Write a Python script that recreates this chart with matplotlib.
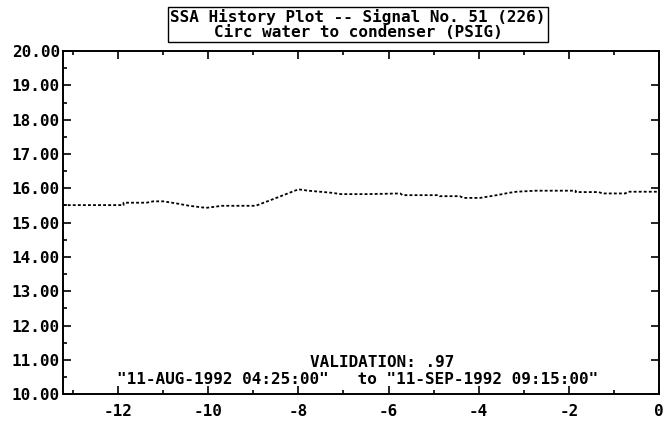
import matplotlib
matplotlib.use("Agg")
import matplotlib.pyplot as plt
import matplotlib.ticker as ticker

plt.rcParams.update({
    "font.family": "DejaVu Sans Mono", "font.weight": "bold", "font.size": 11.5,
    "xtick.direction": "in", "ytick.direction": "in",
})

# signal trace (time offset, PSIG)
t_vals = [-13.23, -11.88, -11.88, -11.37, -11.22, -11.00, -10.71, -10.42, -10.05,
          -9.69, -8.95, -8.51, -8.00, -7.78, -7.27, -7.05, -6.46, -5.74, -5.69,
          -4.89, -4.86, -4.42, -4.34, -3.97, -3.60, -3.32, -3.16, -2.73, -1.85,
          -1.85, -1.34, -1.25, -0.75, -0.68, 0.00]
psig = [15.51, 15.51, 15.58, 15.58, 15.62, 15.62, 15.56, 15.49, 15.43,
        15.49, 15.49, 15.71, 15.97, 15.93, 15.87, 15.83, 15.83, 15.85, 15.80,
        15.80, 15.77, 15.77, 15.72, 15.72, 15.80, 15.87, 15.90, 15.93, 15.93,
        15.89, 15.89, 15.85, 15.85, 15.90, 15.90]

x_major = [-12, -10, -8, -6, -4, -2, 0]
y_major = [10, 11, 12, 13, 14, 15, 16, 17, 18, 19, 20]

title = "SSA History Plot -- Signal No. 51 (226)\nCirc water to condenser (PSIG)"
validation = "VALIDATION: .97"
date_range = '"11-AUG-1992 04:25:00"   to "11-SEP-1992 09:15:00"'

fig = plt.figure(figsize=(6.67, 4.22), dpi=100)
ax = fig.add_axes([0.094, 0.066, 0.894, 0.813])

# old plotter trace: thin dotted black line
ax.plot(t_vals, psig, color="black", linewidth=1.3, dashes=(1.6, 1.2))

ax.set_xlim(-13.23, 0)
ax.set_ylim(10, 20)
ax.xaxis.set_major_locator(ticker.FixedLocator(x_major))
ax.xaxis.set_minor_locator(ticker.MultipleLocator(1))
ax.yaxis.set_major_locator(ticker.FixedLocator(y_major))
ax.yaxis.set_minor_locator(ticker.MultipleLocator(0.5))
ax.xaxis.set_major_formatter(ticker.FuncFormatter(lambda v, p: f"{v:.0f}"))
ax.yaxis.set_major_formatter(ticker.FuncFormatter(lambda v, p: f"{v:.2f}"))

ax.tick_params(axis="x", which="major", top=True, length=6, width=1.2, pad=7)
ax.tick_params(axis="x", which="minor", top=True, length=3, width=1.2)
ax.tick_params(axis="y", which="major", length=6, width=1.2, pad=2)
ax.tick_params(axis="y", which="minor", length=3, width=1.2)
ax.tick_params(axis="y", which="major", right=True)
for s in ax.spines.values():
    s.set_linewidth(1.4)

ax.text(0.535, 0.093, validation, transform=ax.transAxes, ha="center", va="center")
ax.text(0.494, 0.044, date_range, transform=ax.transAxes, ha="center", va="center")

fig.text(0.537, 0.942, title, ha="center", va="center", linespacing=0.95,
         bbox=dict(boxstyle="square,pad=0.15", fc="white", ec="black", lw=1.0))

fig.savefig("out.png", dpi=100)
